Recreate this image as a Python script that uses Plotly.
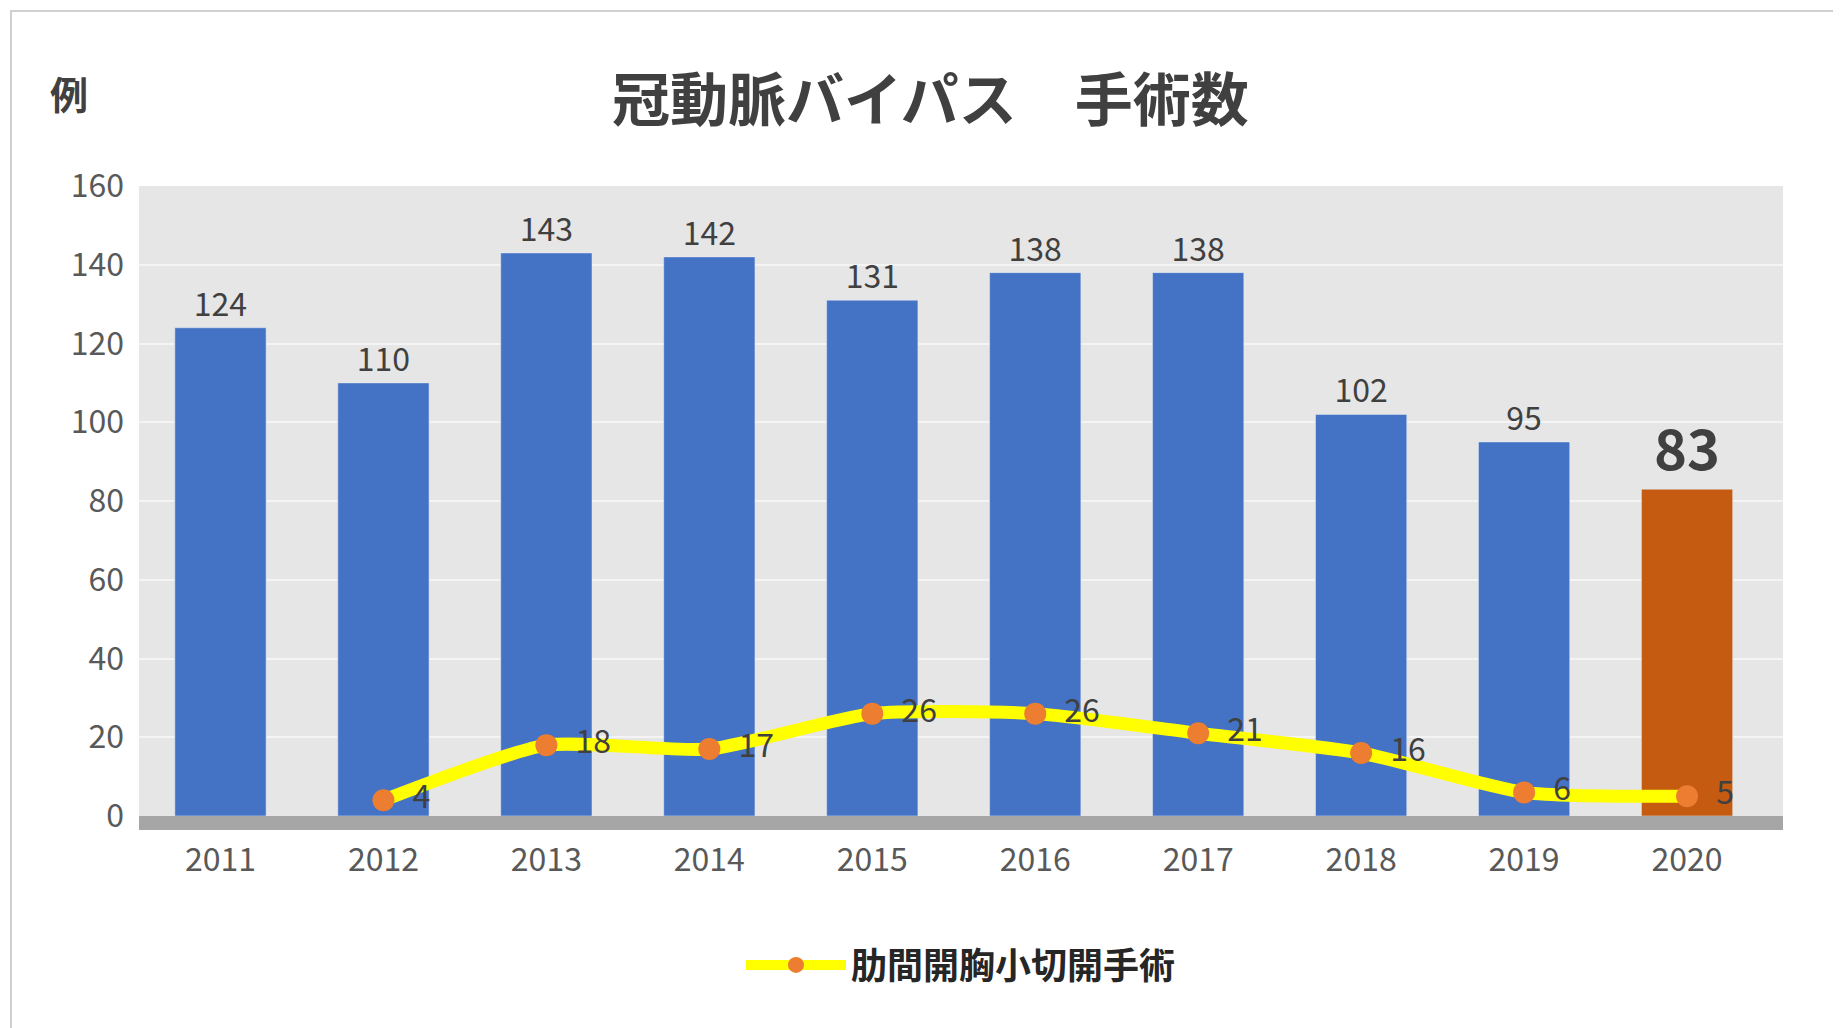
import plotly.graph_objects as go

years = ['2011', '2012', '2013', '2014', '2015', '2016', '2017', '2018', '2019', '2020']
cabg = [124, 110, 143, 142, 131, 138, 138, 102, 95, 83]
mics_years = ['2012', '2013', '2014', '2015', '2016', '2017', '2018', '2019', '2020']
mics = [4, 18, 17, 26, 26, 21, 16, 6, 5]

W, H = 1841, 1028
L, R, T, B = 131, 66, 178, 220
pw, ph = W - L - R, H - T - B

font = 'Noto Sans CJK JP'
bar_colors = ['#4472C4'] * 9 + ['#C55A11']
bar_text = [str(v) for v in cabg[:-1]] + ['<b>83</b>']

fig = go.Figure()
fig.add_trace(go.Bar(
    x=years, y=cabg, marker_color=bar_colors, width=0.56,
    text=bar_text, textposition='outside', cliponaxis=False,
    textfont=dict(size=[32] * 9 + [56], color='#404040', family=font),
    showlegend=False, hoverinfo='x+y'))
fig.add_trace(go.Scatter(
    x=mics_years, y=mics, mode='lines+markers+text', name='<b>肋間開胸小切開手術</b>',
    line=dict(color='#FFFF00', width=13, shape='spline', smoothing=0.6),
    marker=dict(color='#ED7D31', size=22),
    text=['  ' + str(v) for v in mics], textposition='middle right', cliponaxis=False,
    textfont=dict(size=32, color='#404040', family=font)))

fig.add_shape(type='rect', xref='paper', yref='paper', x0=0, x1=1, y0=-14 / ph, y1=0,
              fillcolor='#A6A6A6', line_width=0, layer='below')
fig.add_shape(type='rect', xref='paper', yref='paper',
              x0=-(L - 3) / pw, x1=1 + (R - 3) / pw, y0=-(B - 3) / ph, y1=1 + (T - 3) / ph,
              line=dict(color='#D0D0D0', width=2))

fig.add_annotation(text='<b>冠動脈バイパス　手術数</b>', xref='paper', yref='paper',
                   x=(922 - L) / pw, y=1 + (T - 88) / ph, xanchor='center', yanchor='middle',
                   showarrow=False, font=dict(size=58, color='#404040', family=font))
fig.add_annotation(text='<b>例</b>', xref='paper', yref='paper',
                   x=(61 - L) / pw, y=1 + (T - 84) / ph, xanchor='center', yanchor='middle',
                   showarrow=False, font=dict(size=38, color='#404040', family=font))

fig.update_layout(
    width=W, height=H, margin=dict(l=L, r=R, t=T, b=B),
    paper_bgcolor='white', plot_bgcolor='#E7E6E6',
    font=dict(family=font, color='#404040'),
    legend=dict(orientation='h', x=0.5, xanchor='center', y=-(957 - T - ph) / ph, yanchor='middle',
                font=dict(size=36, color='#262626', family=font), itemwidth=100),
    xaxis=dict(tickfont=dict(size=32, color='#595959'), showgrid=False, ticks='', ticklabelstandoff=22),
    yaxis=dict(range=[0, 160], dtick=20, gridcolor='#F4F4F4', gridwidth=2, zeroline=False,
               tickfont=dict(size=32, color='#595959'), ticklabelstandoff=14),
)
fig.write_html('out.html')
